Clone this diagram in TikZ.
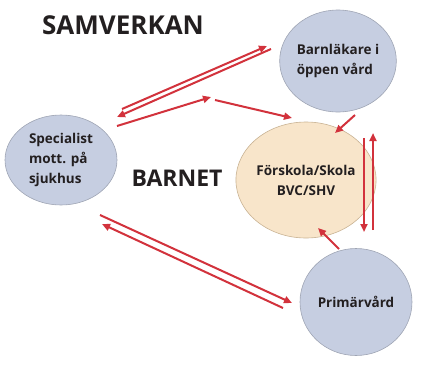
\documentclass[tikz,border=0pt]{standalone}
\usepackage{fontspec}
\setmainfont{Open Sans}
\usetikzlibrary{arrows.meta, shapes.geometric}

\definecolor{redarrow}{HTML}{D2323C}
\definecolor{bluefill}{HTML}{C6CEE1}
\definecolor{blueline}{HTML}{9FA5B4}
\definecolor{peachfill}{HTML}{F8E5CA}
\definecolor{peachline}{HTML}{C9B394}
\definecolor{textgrey}{HTML}{231F20}

\tikzset{
  party/.style={draw=blueline, fill=bluefill, shape=ellipse, line width=0.6pt,
    inner sep=0pt, text=textgrey, font=\bfseries\fontsize{13.5}{20}\selectfont},
  child/.style={party, draw=peachline, fill=peachfill},
  link/.style={draw=redarrow, line width=2pt, -{Triangle[length=8pt,width=7pt]}},
  heading/.style={text=textgrey, font=\bfseries\fontsize{26}{30}\selectfont}
}

\begin{document}
\begin{tikzpicture}[x=1pt, y=-1pt]
\useasboundingbox (0,0) rectangle (438,378);
\node[heading] (samverkan) at (123,25) {SAMVERKAN};
\node[heading, font=\bfseries\fontsize{23}{30}\selectfont] (barnet) at (177,178) {BARNET};
\node[party, minimum width=112pt, minimum height=90pt, align=left] (spec) at (61,160) {Specialist\\mott. på\\sjukhus};
\node[party, minimum width=111pt, minimum height=102pt, align=left] (barnlak) at (338,61) {Barnläkare i\\öppen vård};
\node[child, minimum width=123pt, minimum height=116pt, align=center] (forskola) at (306,180) {Förskola/Skola\\BVC/SHV};
\node[party, minimum width=112pt, minimum height=107pt] (primar) at (356,302) {Primärvård};
% arrow ends
\coordinate (s1) at (122,109); \coordinate (b1) at (267,46);
\coordinate (b2) at (271,49);  \coordinate (s2) at (117,117);
\coordinate (s3) at (117,126); \coordinate (m1) at (211,97);
\coordinate (m2) at (215,100); \coordinate (f1) at (292,118);
\coordinate (b3) at (355,115); \coordinate (f2) at (335,133);
\coordinate (f3) at (364,138); \coordinate (p1) at (364,232);
\coordinate (p2) at (373,230); \coordinate (f4) at (373,133);
\coordinate (p3) at (339,249); \coordinate (f5) at (318,228);
\coordinate (s4) at (100,215); \coordinate (p4) at (292,303);
\coordinate (p5) at (283,308); \coordinate (s5) at (102,224);
\draw[link] (s1)--(b1);
\draw[link] (b2)--(s2);
\draw[link] (s3)--(m1);
\draw[link] (m2)--(f1);
\draw[link] (b3)--(f2);
\draw[link] (f3)--(p1);
\draw[link] (p2)--(f4);
\draw[link] (p3)--(f5);
\draw[link] (s4)--(p4);
\draw[link] (p5)--(s5);
\end{tikzpicture}
\end{document}
